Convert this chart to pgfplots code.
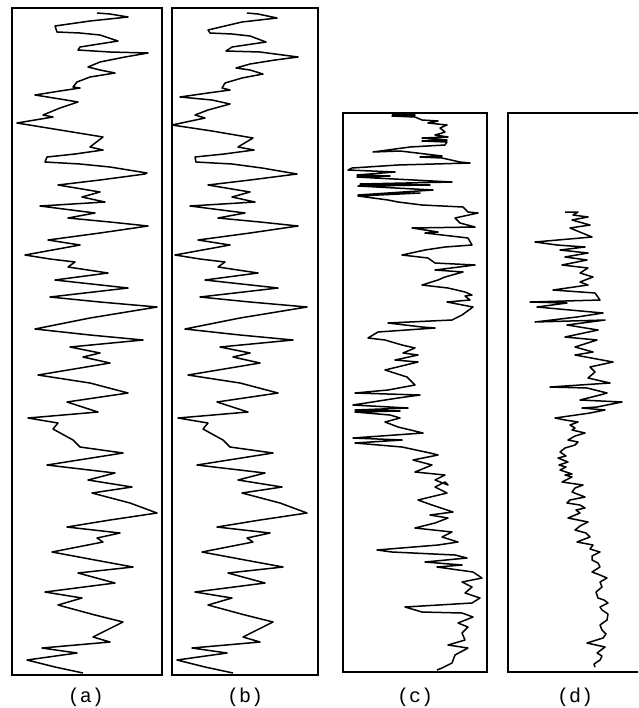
\documentclass[border=0pt]{standalone}
\usepackage{pgfplots}
\pgfplotsset{compat=1.18}
\usepackage{fontspec}
\setmonofont{Liberation Mono}
\begin{document}
\begin{tikzpicture}
\path[use as bounding box, clip] (0pt,0pt) rectangle (638pt,-708pt);
\pgfplotsset{panel/.style={scale only axis, y dir=reverse, xtick=\empty, ytick=\empty,
  axis line style={line width=1.6pt}, anchor=north west}}
% (a)
\begin{axis}[panel, at={(12pt,-8pt)}, width=150pt, height=667pt, xmin=12, xmax=162, ymin=8, ymax=675]
\addplot[black, line width=1.5pt, line join=round] coordinates {(97,13) (110,14) (128,17) (90,21) (55,26) (57,32) (80,33) (100,35) (118,41) (80,47) (78,50) (110,52) (148,53) (125,57) (100,62) (88,67) (100,70) (115,73) (90,77) (77,82) (73,87) (80,88) (60,91) (35,95) (60,99) (78,102) (60,108) (43,115) (53,117) (17,123) (60,130) (103,137) (90,147) (103,150) (75,154) (47,157) (45,162) (80,164) (110,167) (147,173) (145,174) (100,180) (58,185) (100,192) (82,197) (105,202) (40,206) (95,213) (68,218) (110,222) (148,226) (100,233) (48,240) (80,245) (25,255) (50,259) (75,262) (68,267) (108,273) (55,280) (128,288) (50,297) (100,302) (157,307) (90,318) (35,329) (90,335) (143,340) (70,347) (100,353) (83,357) (110,363) (38,375) (90,383) (128,393) (67,402) (98,412) (28,418) (58,423) (53,429) (73,440) (80,447) (123,453) (47,465) (115,473) (88,480) (132,487) (92,493) (130,503) (157,513) (110,520) (67,527) (120,533) (97,538) (103,542) (52,552) (95,560) (133,567) (78,573) (115,583) (45,592) (82,598) (58,605) (95,615) (123,622) (93,637) (110,642) (42,648) (77,653) (27,660) (55,667) (83,673)};
\end{axis}
% (b)
\begin{axis}[panel, at={(172pt,-8pt)}, width=146pt, height=667pt, xmin=22, xmax=168, ymin=8, ymax=675]
\addplot[black, line width=1.5pt, line join=round] coordinates {(97,13) (108,14) (127,18) (92,22) (58,30) (60,33) (82,34) (100,36) (116,42) (82,47) (76,51) (110,52) (148,57) (125,60) (100,64) (86,68) (100,70) (113,74) (92,78) (75,83) (72,88) (80,90) (58,93) (30,97) (62,100) (80,104) (58,110) (45,115) (55,118) (22,125) (62,131) (103,138) (88,147) (104,150) (74,154) (45,157) (46,162) (82,164) (112,168) (147,174) (100,180) (58,185) (100,192) (82,197) (105,202) (40,206) (95,213) (68,218) (110,222) (148,226) (100,233) (48,240) (80,245) (25,255) (50,259) (75,262) (68,267) (108,273) (55,280) (128,288) (50,297) (100,302) (157,307) (90,318) (35,329) (90,335) (143,340) (70,347) (100,353) (83,357) (110,363) (38,375) (90,383) (128,393) (67,402) (98,412) (28,418) (58,423) (53,429) (73,440) (80,447) (123,453) (47,465) (115,473) (88,480) (132,487) (92,493) (130,503) (157,513) (110,520) (67,527) (120,533) (97,538) (103,542) (52,552) (95,560) (133,567) (78,573) (115,583) (45,592) (82,598) (58,605) (95,615) (123,622) (93,637) (110,642) (42,648) (77,653) (27,660) (55,667) (83,673)};
\end{axis}
% (c)
\begin{axis}[panel, at={(343pt,-113pt)}, width=144pt, height=559pt, xmin=343, xmax=487, ymin=113, ymax=672]
\addplot[black, line width=1.5pt, line join=round] coordinates {(392,114) (415,115) (392,116) (415,117) (422,120) (438,121) (428,123) (447,125) (440,128) (445,132) (442,133) (435,135) (448,137) (422,138) (447,140) (422,141) (447,142) (445,145) (410,147) (373,152) (400,151) (417,153) (442,156) (420,157) (442,158) (460,162) (470,163) (398,165) (352,168) (348,170) (395,172) (357,175) (390,176) (357,177) (375,178) (452,182) (360,184) (430,185) (358,186) (433,190) (358,195) (420,193) (358,196) (388,200) (398,202) (422,205) (463,207) (468,212) (478,213) (455,218) (460,223) (475,227) (412,228) (438,232) (425,233) (468,238) (472,245) (445,247) (425,250) (402,255) (428,258) (435,263) (475,265) (435,270) (463,272) (445,277) (438,280) (422,285) (448,288) (465,292) (472,295) (465,296) (470,300) (447,302) (473,307) (462,315) (452,320) (388,323) (422,327) (435,328) (378,332) (368,338) (385,340) (402,345) (415,348) (403,353) (418,355) (395,360) (418,362) (385,370) (407,377) (415,385) (388,390) (355,393) (420,395) (398,398) (353,405) (408,408) (355,410) (400,411) (355,412) (390,415) (400,418) (385,422) (398,427) (423,433) (353,438) (402,440) (355,443) (402,447) (430,453) (438,455) (413,460) (432,465) (415,472) (445,475) (435,480) (448,485) (445,482) (435,487) (447,493) (418,500) (432,505) (453,512) (430,515) (448,518) (435,523) (415,528) (452,532) (442,537) (458,542) (438,545) (377,550) (392,552) (455,555) (467,558) (425,562) (462,565) (437,567) (473,572) (482,578) (462,582) (472,587) (465,593) (480,598) (472,603) (405,607) (422,612) (462,613) (473,617) (458,623) (468,627) (462,633) (465,640) (448,645) (468,648) (455,655) (452,663) (442,668) (437,670)};
\end{axis}
% (d)
\begin{axis}[panel, at={(508pt,-113pt)}, width=144pt, height=559pt, xmin=508, xmax=652, ymin=113, ymax=672]
\addplot[black, line width=1.5pt, line join=round] coordinates {(565,212) (578,212) (573,215) (588,217) (572,220) (590,225) (570,228) (592,237) (535,242) (557,245) (585,247) (560,250) (588,253) (565,257) (587,260) (562,265) (588,268) (580,273) (593,277) (580,282) (588,285) (553,290) (595,293) (600,300) (530,302) (567,303) (537,307) (603,313) (577,317) (535,322) (605,320) (567,325) (598,330) (565,337) (597,340) (575,347) (593,352) (575,355) (613,362) (590,367) (595,372) (588,378) (610,383) (550,387) (587,388) (607,393) (600,395) (580,400) (622,402) (597,407) (582,408) (605,410) (590,413) (555,418) (565,420) (578,422) (570,425) (575,428) (572,430) (585,433) (575,436) (568,440) (578,442) (575,445) (565,448) (560,452) (566,456) (558,458) (568,462) (559,465) (566,467) (560,470) (572,474) (565,475) (572,477) (562,482) (583,485) (575,488) (572,492) (585,497) (570,500) (567,503) (580,505) (585,508) (576,510) (580,513) (568,518) (578,520) (588,522) (580,526) (575,530) (586,533) (590,537) (582,540) (577,542) (593,545) (590,549) (600,552) (592,556) (592,560) (598,563) (600,567) (592,572) (600,575) (607,578) (600,582) (602,587) (596,592) (598,598) (604,600) (608,603) (600,607) (602,610) (608,614) (607,620) (600,625) (602,630) (606,634) (603,638) (587,643) (605,647) (597,653) (602,656) (600,660) (594,664) (595,667)};
\end{axis}
\begin{scope}[font=\ttfamily\fontsize{20}{22}\selectfont]
\node at (86pt,-697pt) {(a)};
\node at (245pt,-697pt) {(b)};
\node at (415pt,-697pt) {(c)};
\node at (575pt,-697pt) {(d)};
\end{scope}
\end{tikzpicture}
\end{document}
